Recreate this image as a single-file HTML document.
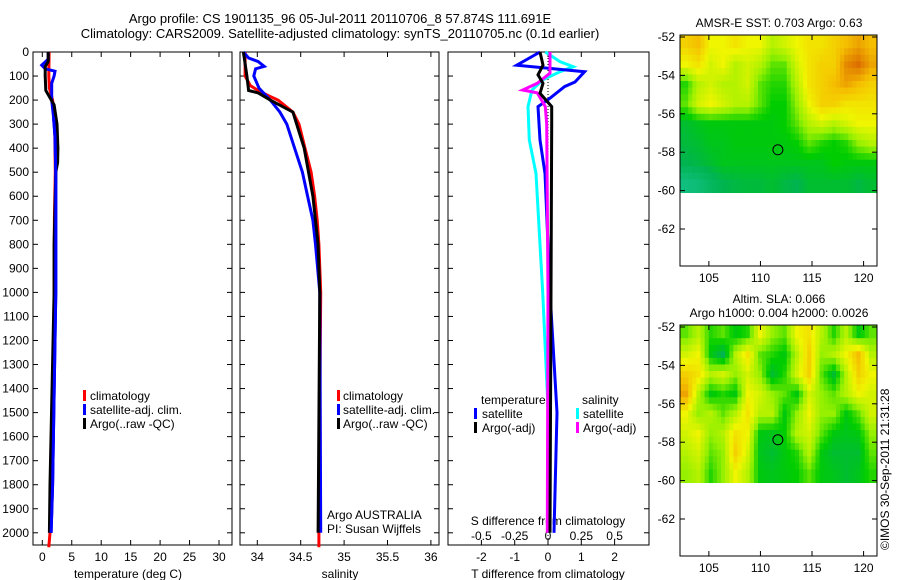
<!DOCTYPE html>
<html><head><meta charset="utf-8"><style>
html,body{margin:0;padding:0;background:#fff;}
svg{display:block;font-family:"Liberation Sans",Arial,sans-serif;font-size:12px;}
</style></head><body>
<svg id="c" width="900" height="580" viewBox="0 0 900 580" xmlns="http://www.w3.org/2000/svg">
<text x="340" y="23" text-anchor="middle" font-size="13">Argo profile: CS 1901135_96 05-Jul-2011 20110706_8 57.874S 111.691E</text>
<text x="340" y="38" text-anchor="middle" font-size="13">Climatology: CARS2009. Satellite-adjusted climatology: synTS_20110705.nc (0.1d earlier)</text>
<g id="g"></g>
</svg>
<script>
// ---- data ----
const depthTicks=[0,100,200,300,400,500,600,700,800,900,1000,1100,1200,1300,1400,1500,1600,1700,1800,1900,2000];
const tempTicks=[0,5,10,15,20,25,30];
const salTicks=[34,34.5,35,35.5,36];
const tdiffTicks=[-2,-1,0,1,2];
const sdiffTicks=[-0.5,-0.25,0,0.25,0.5];
const tClimDepth=[0,100,150,200,300,500,700,1000,1500,2000,2060];
const tClim=[1.15,1.1,1.2,1.75,2.1,2.2,2.05,2.0,1.8,1.3,1.1];
const tSatDepth=[0,30,55,70,80,100,130,200,270,350,500,1000,1800,2000];
const tSat=[1.0,1.0,-0.1,0.5,2.15,2.0,1.6,1.6,1.9,2.15,2.3,2.3,1.75,1.5];
const tArgoDepth=[0,40,60,100,160,190,220,300,400,460,500,800,1000,1800,2000];
const tArgo=[1.0,1.0,0.5,0.5,0.6,1.3,2.0,2.5,2.65,2.6,2.3,2.0,2.0,1.3,1.2];
const sClimDepth=[0,100,140,160,180,200,250,300,400,500,600,700,800,1000,2000,2060];
const sClim=[33.86,33.86,33.92,34.01,34.12,34.24,34.41,34.48,34.55,34.62,34.66,34.69,34.71,34.73,34.71,34.71];
const sArgoDepth=[0,100,160,170,200,250,400,600,800,1000,2000];
const sArgo=[33.84,33.88,33.9,34.01,34.15,34.41,34.54,34.64,34.7,34.72,34.70];
const sSatDepth=[0,25,40,60,70,100,150,200,250,300,400,500,600,700,800,1000,2000];
const sSat=[33.84,33.9,34.01,34.08,33.98,33.96,34.02,34.15,34.26,34.34,34.43,34.52,34.58,34.64,34.67,34.72,34.73];
const dTSatDepth=[0,55,82,125,144,192,227,366,505,1000,1500,2000];
const dTSat=[-0.24,-0.94,1.1,0.81,0.5,0.06,-0.3,-0.24,-0.09,0.06,0.27,0.18];
const dTArgoDepth=[0,55,95,130,172,227,300,1000,2000];
const dTArgo=[-0.24,-0.15,-0.3,-0.15,-0.24,0.11,0.11,0.09,0.06];
const dSSatDepth=[0,40,61,82,116,158,227,366,505,1000,1600,2000];
const dSSat=[-0.02,0.09,0.19,0.09,-0.04,-0.12,-0.15,-0.14,-0.09,-0.04,0.01,0.01];
const dSArgoDepth=[0,88,130,158,170,227,300,1000,2000];
const dSArgo=[0.015,0.015,-0.08,-0.19,-0.08,-0.02,-0.01,0,-0.005];
const latTicks=[-52,-54,-56,-58,-60,-62];
const lonTicks=[105,110,115,120];
const sstGrid=[
[0.8,0.85,0.7,0.7,0.75,0.7,0.7,0.6,0.65,0.7,0.75,0.75,0.8,0.85,0.9,0.85],
[0.7,0.75,0.65,0.7,0.6,0.65,0.6,0.5,0.5,0.65,0.75,0.8,0.8,0.95,1.0,0.9],
[0.45,0.6,0.65,0.6,0.6,0.65,0.5,0.45,0.45,0.6,0.75,0.8,0.85,0.9,0.85,0.8],
[0.5,0.65,0.7,0.65,0.6,0.6,0.5,0.42,0.42,0.55,0.7,0.8,0.8,0.75,0.75,0.75],
[0.35,0.38,0.4,0.4,0.4,0.4,0.4,0.4,0.42,0.5,0.6,0.65,0.6,0.65,0.7,0.7],
[0.33,0.35,0.38,0.38,0.4,0.4,0.4,0.4,0.4,0.42,0.5,0.45,0.42,0.45,0.55,0.6],
[0.3,0.32,0.35,0.38,0.38,0.38,0.38,0.38,0.38,0.38,0.38,0.38,0.42,0.4,0.4,0.4],
[0.15,0.18,0.25,0.3,0.32,0.33,0.33,0.35,0.32,0.3,0.35,0.35,0.35,0.35,0.32,0.35]];
const slaGrid=[
[0.5,0.6,0.45,0.5,0.4,0.45,0.7,0.55,0.5,0.7,0.75,0.6,0.45,0.6,0.4,0.5],
[0.65,0.7,0.4,0.3,0.6,0.75,0.5,0.45,0.4,0.6,0.8,0.55,0.6,0.7,0.85,0.6],
[0.8,0.75,0.6,0.65,0.55,0.65,0.55,0.35,0.45,0.65,0.8,0.5,0.35,0.6,0.8,0.7],
[0.9,0.6,0.4,0.45,0.4,0.7,0.65,0.55,0.5,0.4,0.65,0.55,0.5,0.6,0.7,0.65],
[0.7,0.55,0.6,0.5,0.6,0.75,0.6,0.6,0.4,0.55,0.7,0.55,0.55,0.4,0.5,0.65],
[0.65,0.7,0.55,0.6,0.75,0.7,0.4,0.38,0.42,0.6,0.65,0.5,0.4,0.38,0.4,0.55],
[0.6,0.65,0.5,0.55,0.8,0.65,0.38,0.35,0.4,0.45,0.6,0.4,0.35,0.35,0.35,0.5],
[0.55,0.6,0.45,0.55,0.7,0.6,0.4,0.38,0.4,0.42,0.5,0.4,0.38,0.35,0.38,0.45]];
const argoLon=111.69, argoLat=-57.874;

// ---- drawing ----
const NS='http://www.w3.org/2000/svg';
const G=document.getElementById('g');
function mk(tag,at,parent){const e=document.createElementNS(NS,tag);for(const k in at)e.setAttribute(k,at[k]);(parent||G).appendChild(e);return e;}
const TOP=52, DPX=0.2404, BOT=545;
const yD=d=>TOP+d*DPX;
const xT=t=>42.3+t*5.89;
const xS=s=>257.3+(s-34)*86.8;
const xDT=t=>548+t*33.3;
const xDS=s=>548+s*133.3;

function panel(x0,x1,name){
  const r=mk('rect',{x:x0,y:TOP,width:x1-x0,height:BOT-TOP,fill:'none',stroke:'#000','stroke-width':1});
  
  
  depthTicks.forEach(d=>{
    const y=yD(d);
    const t1=mk('line',{x1:x0,x2:x0+5,y1:y,y2:y,stroke:'#000'});
    
    
    const t2=mk('line',{x1:x1-5,x2:x1,y1:y,y2:y,stroke:'#000'});
    
    
  });
}
function xticks(ticks,fx,labY,name){
  ticks.forEach(v=>{
    const x=fx(v);
    const a=mk('line',{x1:x,x2:x,y1:BOT-5,y2:BOT,stroke:'#000'});
    
    
    const b=mk('line',{x1:x,x2:x,y1:TOP,y2:TOP+5,stroke:'#000'});
    
    
    const t=mk('text',{x:x,y:labY,'text-anchor':'middle'});
    t.textContent=String(v);
    
    
  });
}
function line(depths,vals,fx,color,name,w){
  const pts=depths.map((d,i)=>fx(vals[i]).toFixed(1)+','+yD(d).toFixed(1)).join(' ');
  const p=mk('polyline',{points:pts,fill:'none',stroke:color,'stroke-width':w||3,'stroke-linejoin':'miter'});
  
  
}
function txt(x,y,s,name,anchor,size){
  const t=mk('text',{x:x,y:y,'text-anchor':anchor||'start'});
  if(size)t.setAttribute('font-size',size);
  t.textContent=s;
  
  
  return t;
}
function legMark(x,y,color,name){
  const r=mk('rect',{x:x,y:y-10,width:3,height:11,fill:color});
  
  
}

// panel 1
panel(33,232,'temperature-panel');
depthTicks.forEach(d=>txt(29,yD(d)+4,String(d),'depth-tick-label','end'));
xticks(tempTicks,xT,561,'temperature-axis');
txt(128,578,'temperature (deg C)','temperature-axis-title','middle');
line(tClimDepth,tClim,xT,'#ff0000','temperature-climatology-line');
line(tSatDepth,tSat,xT,'#0000ff','temperature-satellite-line');
line(tArgoDepth,tArgo,xT,'#000000','temperature-argo-line');
line(tSatDepth.slice(8),tSat.slice(8),xT,'#0000ff','temperature-satellite-line-deep');
legMark(83,400,'#ff0000','legend-climatology-marker');txt(90,400,'climatology','legend-climatology');
legMark(83,414,'#0000ff','legend-satellite-marker');txt(90,414,'satellite-adj. clim.','legend-satellite');
legMark(83,428,'#000','legend-argo-marker');txt(90,428,'Argo(..raw -QC)','legend-argo');

// panel 2
panel(240,439,'salinity-panel');
xticks(salTicks,xS,561,'salinity-axis');
txt(340,578,'salinity','salinity-axis-title','middle');
line(sClimDepth,sClim,xS,'#ff0000','salinity-climatology-line');
line(sSatDepth,sSat,xS,'#0000ff','salinity-satellite-line');
line(sArgoDepth,sArgo,xS,'#000000','salinity-argo-line');
legMark(337,400,'#ff0000','legend2-climatology-marker');txt(343,400,'climatology','legend2-climatology');
legMark(337,414,'#0000ff','legend2-satellite-marker');txt(343,414,'satellite-adj. clim.','legend2-satellite');
legMark(337,428,'#000','legend2-argo-marker');txt(343,428,'Argo(..raw -QC)','legend2-argo');
txt(327,519,'Argo AUSTRALIA','float-country-label');
txt(327,533,'PI: Susan Wijffels','float-pi-label');

// panel 3
panel(448,649,'difference-panel');
const zl=mk('line',{x1:xDT(0),x2:xDT(0),y1:TOP,y2:BOT,stroke:'#000','stroke-dasharray':'1,2'});


tdiffTicks.forEach(v=>{
  const x=xDT(v);
  const a=mk('line',{x1:x,x2:x,y1:BOT-5,y2:BOT,stroke:'#000'});
  
  
  const b=mk('line',{x1:x,x2:x,y1:TOP,y2:TOP+5,stroke:'#000'});
  
  
  txt(x,561,String(v),'tdiff-tick-label','middle');
});
sdiffTicks.forEach(v=>txt(xDS(v),540,String(v),'sdiff-tick-label','middle'));
txt(548,578,'T difference from climatology','tdiff-axis-title','middle');
txt(548,525,'S difference from climatology','sdiff-axis-title','middle');
line(dSSatDepth,dSSat,xDS,'#00ffff','salinity-satellite-diff-line');
line(dTSatDepth,dTSat,xDT,'#0000ff','temperature-satellite-diff-line');
line(dSArgoDepth,dSArgo,xDS,'#ff00ff','salinity-argo-diff-line');
line(dTArgoDepth,dTArgo,xDT,'#000000','temperature-argo-diff-line');
txt(481,404,'temperature','legend3-temperature-heading');
legMark(474,418,'#0000ff','legend3-tsat-marker');txt(482,418,'satellite','legend3-tsat');
legMark(474,432,'#000','legend3-targo-marker');txt(482,432,'Argo(-adj)','legend3-targo');
txt(582,404,'salinity','legend3-salinity-heading');
legMark(576,418,'#00ffff','legend3-ssat-marker');txt(583,418,'satellite','legend3-ssat');
legMark(576,432,'#ff00ff','legend3-sargo-marker');txt(583,432,'Argo(-adj)','legend3-sargo');

// maps
const MX0=680,MX1=877,LON0=102.2,LON1=121.3;
const mxLon=l=>MX0+(l-LON0)*(MX1-MX0)/(LON1-LON0);
function cmap(v){
  const st=[[0,[32,200,170]],[0.3,[0,180,80]],[0.42,[0,205,0]],[0.55,[150,240,0]],[0.7,[240,245,0]],[0.85,[245,190,0]],[1,[220,110,0]]];
  v=Math.max(0,Math.min(1,v));
  for(let i=1;i<st.length;i++){if(v<=st[i][0]){const a=st[i-1],b=st[i],f=(v-a[0])/(b[0]-a[0]);return 'rgb('+a[1].map((c,k)=>Math.round(c+(b[1][k]-c)*f)).join(',')+')';}}
  return 'rgb(220,110,0)';
}
function sample(grid,fi,fj){
  const R=grid.length,C=grid[0].length;
  fi=Math.max(0,Math.min(R-1,fi));fj=Math.max(0,Math.min(C-1,fj));
  const i0=Math.floor(fi),j0=Math.floor(fj),i1=Math.min(R-1,i0+1),j1=Math.min(C-1,j0+1);
  const di=fi-i0,dj=fj-j0;
  return grid[i0][j0]*(1-di)*(1-dj)+grid[i0][j1]*(1-di)*dj+grid[i1][j0]*di*(1-dj)+grid[i1][j1]*di*dj;
}
function map(oy,grid,name){
  const myLat=l=>oy+37+(-52-l)*19.2;
  const ytop=oy+35,ybot=oy+266;
  const rows=grid.length,cols=grid[0].length;
  const yA=myLat(-51.9),yB=myLat(-60.1);
  const NX=cols*3,NY=rows*3;
  const cw=(MX1-MX0)/NX,ch=(yB-yA)/NY;
  for(let i=0;i<NY;i++)for(let j=0;j<NX;j++){
    const v=sample(grid,(i+0.5)/NY*rows-0.5,(j+0.5)/NX*cols-0.5);
    const r=mk('rect',{x:(MX0+j*cw).toFixed(2),y:(yA+i*ch).toFixed(2),width:(cw+0.5).toFixed(2),height:(ch+0.5).toFixed(2),fill:cmap(v)});
    
    
  }
  const b=mk('rect',{x:MX0,y:ytop,width:MX1-MX0,height:ybot-ytop,fill:'none',stroke:'#000'});
  
  
  latTicks.forEach(l=>{
    const y=myLat(l);
    const a=mk('line',{x1:MX0,x2:MX0+5,y1:y,y2:y,stroke:'#000'});
    
    
    const a2=mk('line',{x1:MX1-5,x2:MX1,y1:y,y2:y,stroke:'#000'});
    
    
    txt(675,y+4,String(l),name+'-lat-label','end');
  });
  lonTicks.forEach(l=>{
    const x=mxLon(l);
    const a=mk('line',{x1:x,x2:x,y1:ybot-5,y2:ybot,stroke:'#000'});
    
    
    const a2=mk('line',{x1:x,x2:x,y1:ytop,y2:ytop+5,stroke:'#000'});
    
    
    txt(x,ybot+16,String(l),name+'-lon-label','middle');
  });
  const c=mk('circle',{cx:mxLon(argoLon),cy:myLat(argoLat),r:5,fill:'none',stroke:'#000'});
  
  
}
map(0,sstGrid,'sst-map');
map(290,slaGrid,'sla-map');
txt(779,27,'AMSR-E SST: 0.703 Argo: 0.63','sst-map-title','middle');
txt(779,303,'Altim. SLA: 0.066','sla-map-title','middle');
txt(779,317,'Argo h1000: 0.004 h2000: 0.0026','sla-map-subtitle','middle');
const im=txt(0,0,'©IMOS 30-Sep-2011 21:31:28','imos-credit','start');
im.setAttribute('transform','translate(889,550) rotate(-90)');
</script>
</body></html>
